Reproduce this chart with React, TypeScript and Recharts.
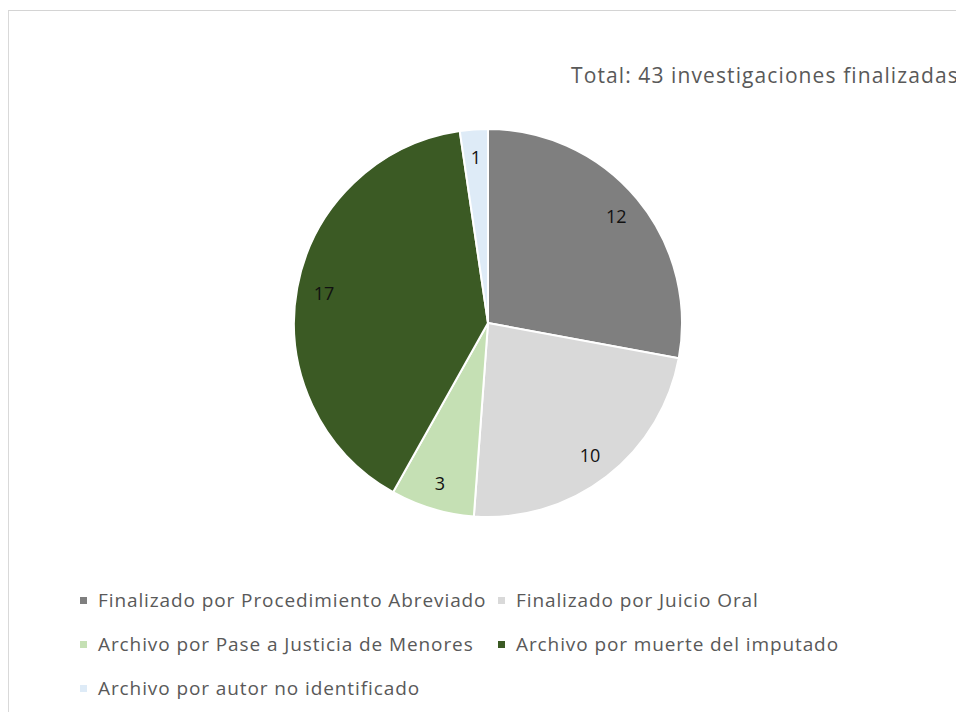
import { PieChart, Pie, Cell, Legend } from "recharts";

/* ---------------- DATA ---------------- */

const CATEGORIES = [
  "Finalizado por Procedimiento Abreviado",
  "Finalizado por Juicio Oral",
  "Archivo por Pase a Justicia de Menores",
  "Archivo por muerte del imputado",
  "Archivo por autor no identificado"
];

const VALUES = [12, 10, 3, 17, 1];

const TOTAL_LABEL = "Total: 43 investigaciones finalizadas";

/* ---------------- COLORS ---------------- */

const COLORS = ["#7f7f7f", "#d9d9d9", "#c5e0b4", "#3b5a24", "#deebf7"];

type Slice = {
  name: string;
  value: number;
};

const pieData: Slice[] = CATEGORIES.map((name, i) => ({
  name,
  value: VALUES[i]
}));

const RADIAN = Math.PI / 180;

const renderLabel = (props: any) => {
  const { cx, cy, midAngle, outerRadius, value } = props;
  const r = outerRadius * 0.86;
  const x = cx + r * Math.cos(-midAngle * RADIAN);
  const y = cy + r * Math.sin(-midAngle * RADIAN);
  return (
    <text
      x={x}
      y={y}
      textAnchor="middle"
      dominantBaseline="central"
      fill="#111111"
      fontSize={18}
      fontFamily="'Open Sans', sans-serif"
    >
      {value}
    </text>
  );
};

// legend keeps the series order (the default payload gets sorted)
const renderLegend = () => (
  <div
    style={{
      display: "grid",
      gridTemplateColumns: "418px auto",
      fontFamily: "'Open Sans', sans-serif",
      fontSize: 19,
      letterSpacing: 0.9,
      color: "#595959"
    }}
  >
    {CATEGORIES.map((name, i) => (
      <div key={name} style={{ display: "flex", alignItems: "center", height: 44 }}>
        <span
          style={{
            width: 7,
            height: 7,
            background: COLORS[i % COLORS.length],
            marginRight: 11,
            flexShrink: 0
          }}
        />
        <span style={{ whiteSpace: "nowrap" }}>{name}</span>
      </div>
    ))}
  </div>
);

/* ---------------- COMPONENT ---------------- */

export default function App() {
  return (
    <div
      style={{
        position: "relative",
        width: 964,
        height: 720,
        margin: -8,
        overflow: "hidden",
        background: "#fff"
      }}
    >
      {/* cut-off heading above the frame */}
      <div
        style={{
          position: "absolute",
          left: 200,
          top: -17,
          fontFamily: "'Liberation Sans', sans-serif",
          fontSize: 20,
          lineHeight: "20px",
          color: "#000"
        }}
      >
        g
      </div>

      <div
        style={{
          position: "absolute",
          left: 571,
          top: 61,
          fontFamily: "'Open Sans', sans-serif",
          fontSize: 21,
          letterSpacing: 1.1,
          color: "#595959",
          whiteSpace: "nowrap"
        }}
      >
        {TOTAL_LABEL}
      </div>

      <div style={{ position: "absolute", left: 0, top: 0 }}>
        <PieChart
          width={964}
          height={720}
          margin={{ top: 0, right: 0, bottom: 0, left: 0 }}
        >
          <Pie
            data={pieData}
            dataKey="value"
            nameKey="name"
            cx={488}
            cy={323}
            outerRadius={194}
            startAngle={90}
            endAngle={-270}
            stroke="#ffffff"
            strokeWidth={2}
            label={renderLabel}
            labelLine={false}
            isAnimationActive={false}
          >
            {pieData.map((_, i) => (
              <Cell key={i} fill={COLORS[i % COLORS.length]} />
            ))}
          </Pie>
          <Legend
            content={renderLegend}
            wrapperStyle={{ left: 80, top: 578, width: 860 }}
          />
        </PieChart>
      </div>

      {/* chart frame */}
      <div
        style={{
          position: "absolute",
          left: 7,
          top: 10,
          width: 1100,
          height: 900,
          borderTop: "1px solid #d4d4d4",
          borderLeft: "2px solid #d9d9d9",
          pointerEvents: "none"
        }}
      />
    </div>
  );
}
